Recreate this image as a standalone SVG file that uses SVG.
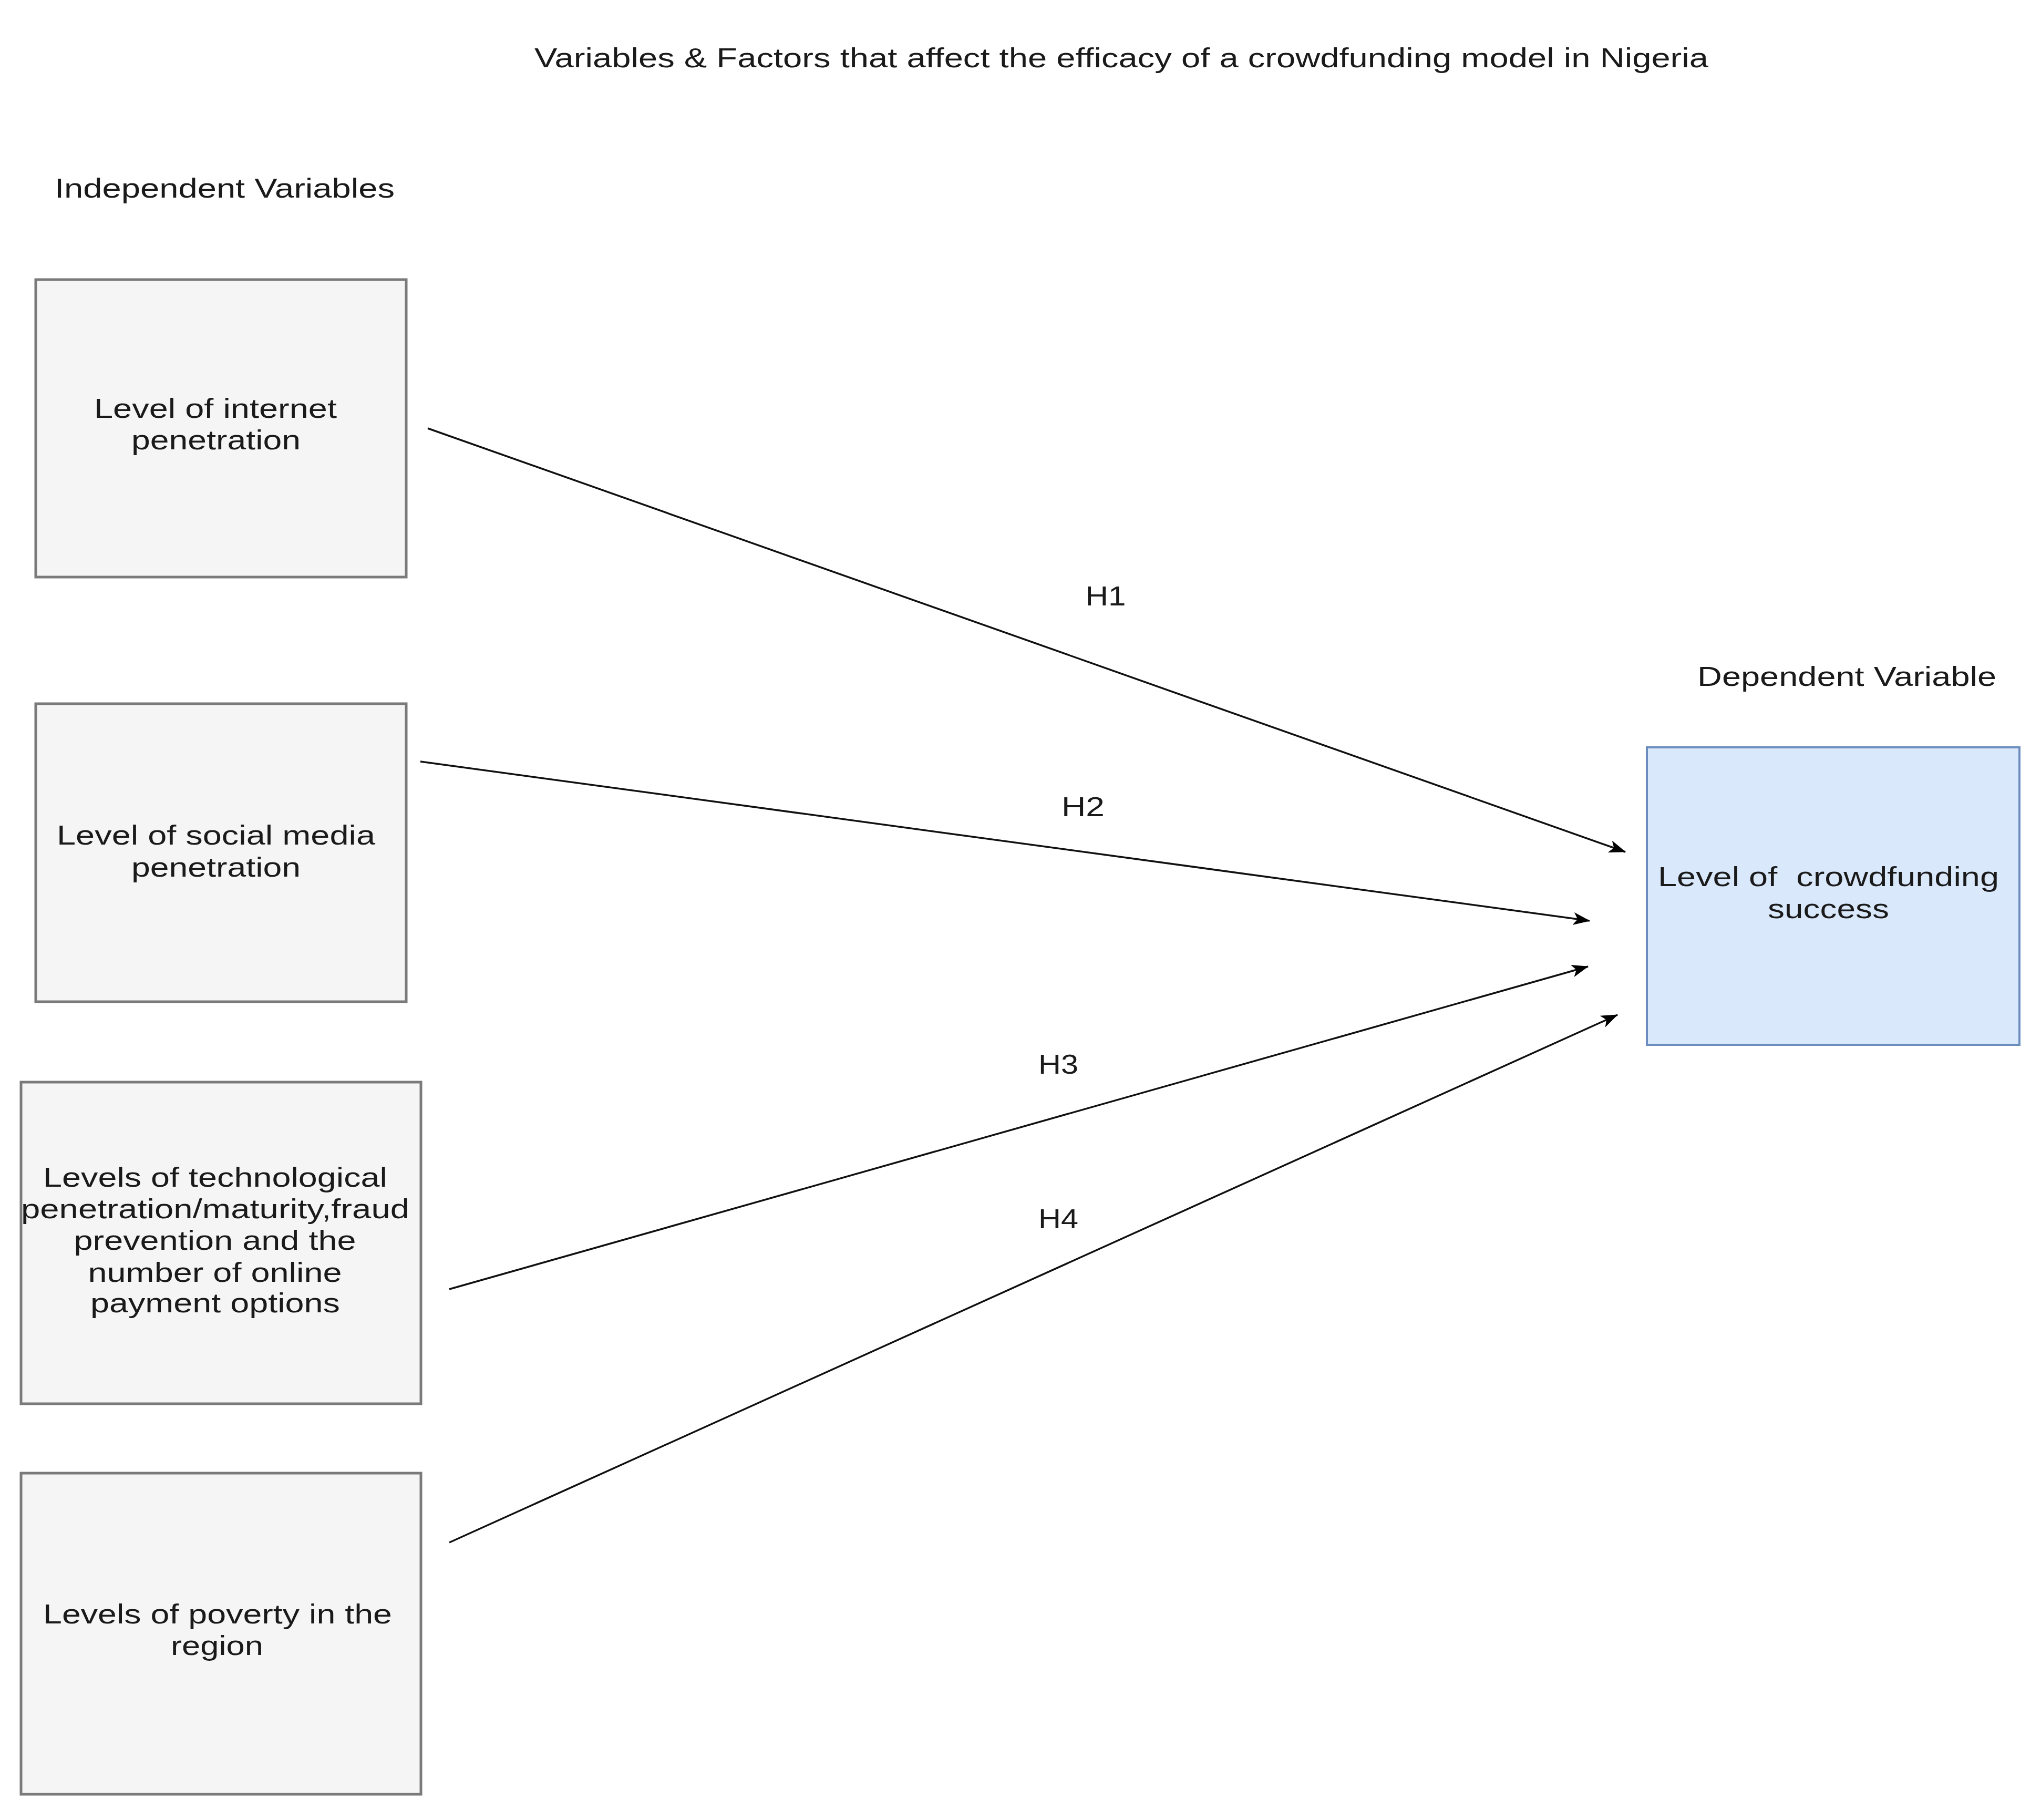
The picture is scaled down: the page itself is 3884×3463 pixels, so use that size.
<svg xmlns="http://www.w3.org/2000/svg" width="3884" height="3463" viewBox="0 0 3884 3463">
<style>
text{font-family:"Liberation Sans",Arial,Helvetica,sans-serif;font-size:52px;fill:#1a1a1a}
.c{text-anchor:middle}
.box{fill:#f5f5f5;stroke:#7a7a7a;stroke-width:5}
.dep{fill:#dae8fc;stroke:#6c8ebf;stroke-width:4}
.edge{stroke:#111;stroke-width:3.5;fill:none;marker-end:url(#arr)}
</style>
<defs>
<marker id="arr" viewBox="0 0 32 24" markerWidth="32" markerHeight="24" refX="31" refY="12" orient="auto" markerUnits="userSpaceOnUse">
<path d="M0,0 L32,12 L0,24 L8,12 Z" fill="#000"/>
</marker>
</defs>
<rect width="3884" height="3463" fill="#fff"/>
<g id="labels">
<text class="c" x="2134" y="128" textLength="2234" lengthAdjust="spacingAndGlyphs">Variables &amp; Factors that affect the efficacy of a crowdfunding model in Nigeria</text>
<text x="104" y="376" textLength="647" lengthAdjust="spacingAndGlyphs">Independent Variables</text>
<text x="3230" y="1305" textLength="569" lengthAdjust="spacingAndGlyphs">Dependent Variable</text>
</g>
<g id="node-internet">
<rect class="box" x="68" y="532" width="705" height="566"/>
<text class="c" x="410" y="795" textLength="462" lengthAdjust="spacingAndGlyphs">Level of internet</text>
<text class="c" x="411" y="855" textLength="322" lengthAdjust="spacingAndGlyphs">penetration</text>
</g>
<g id="node-social">
<rect class="box" x="68" y="1339" width="705" height="567"/>
<text class="c" x="411" y="1607" textLength="606" lengthAdjust="spacingAndGlyphs">Level of social media</text>
<text class="c" x="411" y="1668" textLength="322" lengthAdjust="spacingAndGlyphs">penetration</text>
</g>
<g id="node-tech">
<rect class="box" x="40" y="2059" width="761" height="612"/>
<text class="c" x="409.5" y="2258" textLength="655" lengthAdjust="spacingAndGlyphs">Levels of technological</text>
<text class="c" x="409.5" y="2318" textLength="739" lengthAdjust="spacingAndGlyphs">penetration/maturity,fraud</text>
<text class="c" x="409" y="2378" textLength="537" lengthAdjust="spacingAndGlyphs">prevention and the</text>
<text class="c" x="409" y="2439" textLength="483" lengthAdjust="spacingAndGlyphs">number of online</text>
<text class="c" x="409.5" y="2497" textLength="475" lengthAdjust="spacingAndGlyphs">payment options</text>
</g>
<g id="node-poverty">
<rect class="box" x="40" y="2803" width="761" height="611"/>
<text class="c" x="414" y="3089" textLength="664" lengthAdjust="spacingAndGlyphs">Levels of poverty in the</text>
<text class="c" x="413" y="3149" textLength="176" lengthAdjust="spacingAndGlyphs">region</text>
</g>
<g id="node-success">
<rect class="dep" x="3134" y="1422" width="709" height="566"/>
<text class="c" x="3479.5" y="1686" textLength="649" lengthAdjust="spacingAndGlyphs" xml:space="preserve">Level of  crowdfunding</text>
<text class="c" x="3479.5" y="1747" textLength="231" lengthAdjust="spacingAndGlyphs">success</text>
</g>
<g id="connectors">
<line class="edge" x1="814" y1="815" x2="3093" y2="1621"/>
<line class="edge" x1="800" y1="1449" x2="3025" y2="1752"/>
<line class="edge" x1="855" y1="2453" x2="3022" y2="1839"/>
<line class="edge" x1="855" y1="2935" x2="3078" y2="1931"/>
<text class="c" x="2104" y="1152" textLength="77" lengthAdjust="spacingAndGlyphs">H1</text>
<text class="c" x="2061" y="1553" textLength="82" lengthAdjust="spacingAndGlyphs">H2</text>
<text class="c" x="2014" y="2043" textLength="76" lengthAdjust="spacingAndGlyphs">H3</text>
<text class="c" x="2014" y="2337" textLength="76" lengthAdjust="spacingAndGlyphs">H4</text>
</g>
</svg>
